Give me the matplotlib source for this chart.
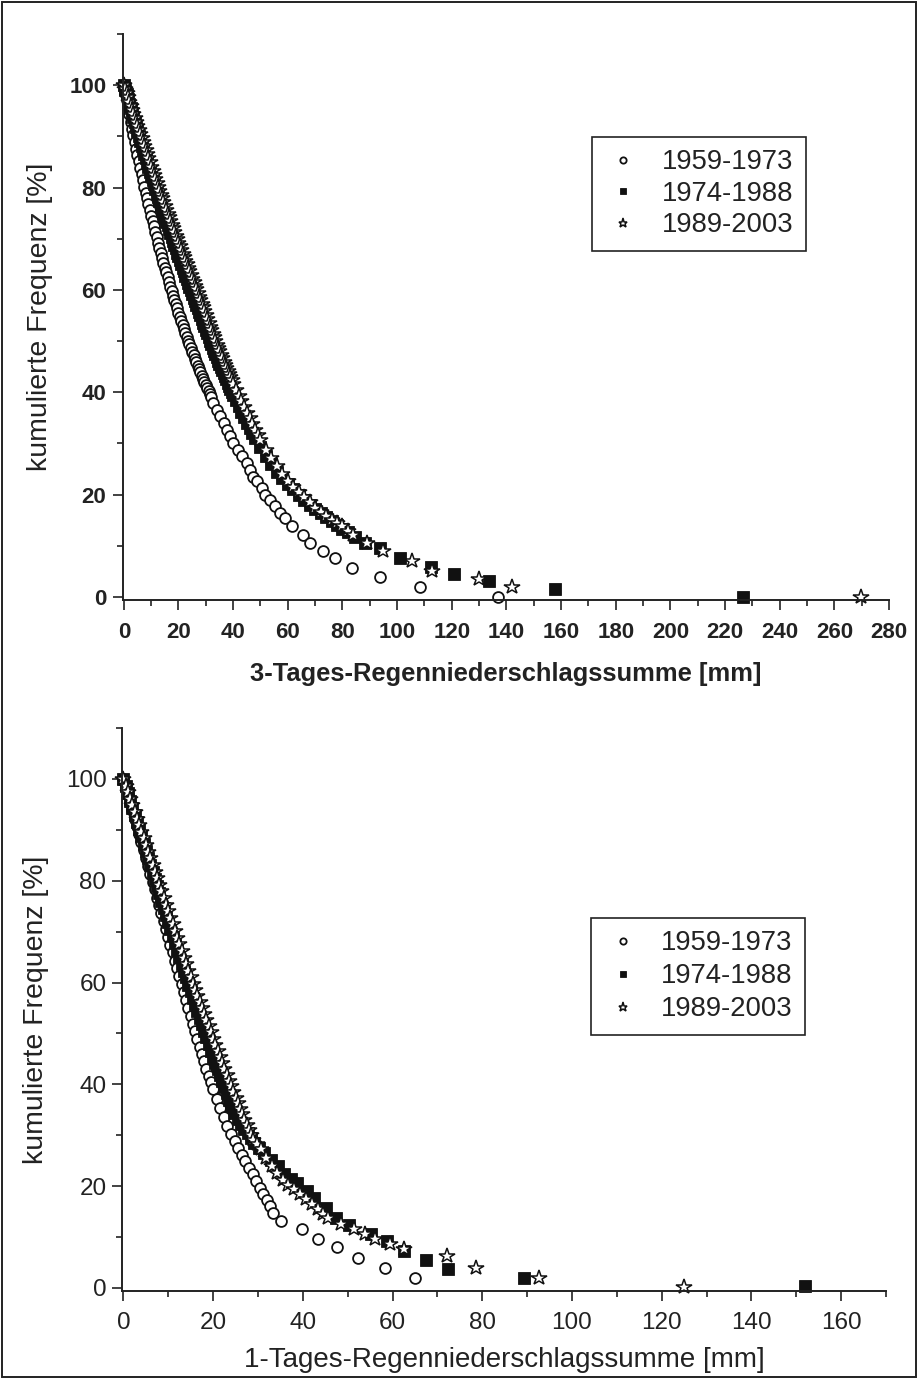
import matplotlib
matplotlib.use("Agg")
import matplotlib.pyplot as plt
from matplotlib.ticker import MultipleLocator
from matplotlib.patches import Rectangle

plt.rcParams['font.family'] = ['Liberation Sans', 'DejaVu Sans']

# ---------------- data ----------------
labels = ["1959-1973", "1974-1988", "1989-2003"]

# 3-day sums, series 1959-1973 (x mm, y %)
top_1959 = [(0,100),(0.5,98.5),(1,97.1),(1.5,95.7),(2,94.3),(2.5,92.9),(3,91.5),(3.5,90.2),(4,88.9),(4.5,87.6),
            (5,86.3),(5.5,85.1),(6,83.8),(6.5,82.6),(7,81.4),(7.5,80.2),(8,79.0),(8.5,77.9),(9,76.7),(9.5,75.6),
            (10,74.5),(10.5,73.4),(11,72.4),(11.5,71.3),(12,70.3),(12.5,69.2),(13,68.2),(13.5,67.2),(14,66.2),(14.5,65.3),
            (15,64.3),(15.5,63.4),(16,62.5),(16.5,61.5),(17,60.6),(17.5,59.8),(18,58.9),(18.5,58.0),(19,57.2),(19.5,56.4),
            (20,55.5),(20.5,54.7),(21,53.9),(21.5,53.1),(22,52.4),(22.5,51.6),(23,50.8),(23.5,50.1),(24,49.4),(24.5,48.6),
            (25,47.9),(25.5,47.2),(26,46.5),(26.5,45.9),(27,45.2),(27.5,44.5),(28,43.9),(28.5,43.2),(29,42.6),(29.5,42.0),
            (30,41.4),(30.5,40.8),(31,40.2),(31.5,39.6),(32,39.0),(32.8,37.9),(34.0,36.6),(35.2,35.3),(36.5,34.0),(37.7,32.7),
            (38.9,31.4),(40.1,30.1),(41.9,28.8),(43.2,27.5),(45.0,26.2),(46.2,24.9),(47.4,23.5),(48.7,22.6),(50.5,21.3),(51.7,20.0),
            (53.5,19.0),(55.4,17.7),(57.2,16.4),(59.0,15.4),(61.5,13.8),(65.7,12.1),(68.2,10.5),(73.0,8.9),(77.3,7.6),(83.4,5.6),
            (93.8,3.8),(108.4,2.0),(137.1,0.0)]
# 3-day sums, series 1974-1988
top_1974 = [(0,100),(0.5,99.1),(1,98.2),(1.5,97.3),(2,96.4),(2.5,95.5),(3,94.6),(3.5,93.7),(4,92.8),(4.5,91.9),
            (5,91.0),(5.5,90.0),(6,89.1),(6.5,88.2),(7,87.4),(7.5,86.5),(8,85.7),(8.5,84.8),(9,84.0),(9.5,83.1),
            (10,82.3),(10.5,81.4),(11,80.6),(11.5,79.7),(12,78.9),(12.5,78.1),(13,77.3),(13.5,76.5),(14,75.7),(14.5,74.9),
            (15,74.1),(15.5,73.3),(16,72.6),(16.5,71.8),(17,71.1),(17.5,70.3),(18,69.6),(18.5,68.8),(19,68.1),(19.5,67.3),
            (20,66.6),(20.5,65.8),(21,65.1),(21.5,64.3),(22,63.6),(22.5,62.8),(23,62.1),(23.5,61.3),(24,60.6),(24.5,59.9),
            (25,59.2),(25.5,58.5),(26,57.8),(26.5,57.1),(27,56.4),(27.5,55.7),(28,55.0),(28.5,54.3),(29,53.6),(29.5,52.9),
            (30,52.2),(30.5,51.5),(31,50.8),(31.5,50.1),(32,49.4),(32.5,48.7),(33,48.1),(33.5,47.4),(34,46.8),(34.5,46.1),
            (35,45.5),(35.5,44.9),(36,44.3),(36.5,43.7),(37,43.1),(37.5,42.5),(38,41.9),(38.5,41.3),(39,40.7),(39.5,40.1),
            (40,39.5),(41,38.4),(42,37.3),(43,36.2),(44,35.1),(45,34.0),(46,33.0),(47,32.0),(48,31.1),(50,29.2),
            (52,27.6),(54,26.0),(56,24.5),(58,23.2),(60,22.1),(62,21.0),(64,20.0),(66,19.0),(68,18.0),(70,17.2),
            (72,16.4),(74,15.6),(76,14.8),(78,14.0),(80,13.3),(82,12.6),(84.5,11.8),(88.3,10.5),(93.8,9.5),(100.9,7.7),
            (112.5,5.8),(121,4.5),(133.7,3.1),(157.6,1.5),(226.7,0.0)]
# 3-day sums, series 1989-2003
top_1989 = [(0,100),(0.5,99.2),(1,98.4),(1.5,97.6),(2,96.8),(2.5,96.0),(3,95.2),(3.5,94.4),(4,93.6),(4.5,92.8),
            (5,92.0),(5.5,91.2),(6,90.4),(6.5,89.6),(7,88.9),(7.5,88.1),(8,87.3),(8.5,86.5),(9,85.7),(9.5,84.9),
            (10,84.1),(10.5,83.3),(11,82.5),(11.5,81.7),(12,80.9),(12.5,80.1),(13,79.4),(13.5,78.6),(14,77.9),(14.5,77.1),
            (15,76.4),(15.5,75.6),(16,74.9),(16.5,74.2),(17,73.5),(17.5,72.7),(18,72.0),(18.5,71.3),(19,70.6),(19.5,69.9),
            (20,69.2),(20.5,68.5),(21,67.8),(21.5,67.1),(22,66.4),(22.5,65.7),(23,65.0),(23.5,64.3),(24,63.6),(24.5,62.9),
            (25,62.2),(25.5,61.5),(26,60.8),(26.5,60.1),(27,59.4),(27.5,58.7),(28,58.0),(28.5,57.3),(29,56.6),(29.5,55.8),
            (30,55.1),(30.5,54.3),(31,53.6),(31.5,52.8),(32,52.1),(32.5,51.4),(33,50.7),(33.5,50.0),(34,49.3),(34.5,48.6),
            (35,48.0),(35.5,47.3),(36,46.7),(36.5,46.0),(37,45.4),(37.5,44.7),(38,44.1),(38.5,43.5),(39,42.9),(39.5,42.3),
            (40,41.7),(41,40.5),(42,39.3),(43,38.2),(44,37.1),(45,36.0),(46,34.9),(47,33.8),(48,32.7),(49,31.6),
            (50,30.6),(52,28.8),(54,27.1),(56,25.5),(58,24.0),(60,22.7),(62,21.5),(64,20.5),(66,19.5),(68,18.5),
            (70,17.4),(72,16.6),(74,15.8),(76,15.0),(77.9,14.4),(79.8,13.8),(82,12.9),(84,12.1),(88.9,10.5),(94.8,8.9),
            (105.4,7.0),(112.7,5.1),(130,3.5),(142,1.9),(269.8,0.0)]

# 1-day sums, series 1959-1973
bot_1959 = [(0,100),(0.5,98.4),(1,96.9),(1.5,95.3),(2,93.8),(2.5,92.2),(3,90.7),(3.5,89.1),(4,87.6),(4.5,86.0),
            (5,84.5),(5.5,82.9),(6,81.4),(6.5,79.8),(7,78.3),(7.5,76.7),(8,75.2),(8.5,73.6),(9,72.1),(9.5,70.5),
            (10,69.0),(10.5,67.4),(11,65.9),(11.5,64.3),(12,62.8),(12.5,61.2),(13,59.7),(13.5,58.1),(14,56.6),(14.5,55.0),
            (15,53.5),(15.5,51.9),(16,50.4),(16.5,48.9),(17,47.4),(17.5,45.9),(18,44.5),(18.5,43.1),(19,41.7),(19.5,40.4),
            (20,39.1),(20.8,37.2),(21.6,35.3),(22.4,33.6),(23.2,31.9),(24,30.3),(24.8,28.8),(25.6,27.4),(26.4,26.1),(27.2,24.9),
            (28,23.6),(28.8,22.3),(29.6,21.0),(30.4,19.7),(31.2,18.5),(32,17.2),(32.7,16.0),(33.3,14.8),(35.1,13.2),(39.9,11.5),
            (43.3,9.6),(47.7,8.0),(52.3,5.9),(58.3,4.0),(65.1,1.9)]
# 1-day sums, series 1974-1988
bot_1974 = [(0,100),(0.5,98.6),(1,97.2),(1.5,95.7),(2,94.3),(2.5,92.9),(3,91.5),(3.5,90.1),(4,88.7),(4.5,87.3),
            (5,85.9),(5.5,84.5),(6,83.1),(6.5,81.7),(7,80.3),(7.5,78.9),(8,77.5),(8.5,76.1),(9,74.7),(9.5,73.3),
            (10,71.9),(10.5,70.5),(11,69.1),(11.5,67.8),(12,66.4),(12.5,65.0),(13,63.7),(13.5,62.3),(14,61.0),(14.5,59.6),
            (15,58.3),(15.5,57.0),(16,55.7),(16.5,54.4),(17,53.1),(17.5,51.8),(18,50.5),(18.5,49.2),(19,47.9),(19.5,46.6),
            (20,45.4),(20.5,44.2),(21,43.0),(21.5,41.8),(22,40.6),(22.5,39.4),(23,38.2),(23.5,37.0),(24,35.8),(24.7,34.4),
            (25.5,33.2),(26.2,32.2),(27,31.2),(27.7,30.5),(28.5,29.4),(29.2,28.5),(30.3,27.5),(31.4,26.6),(32.9,25.2),(34.4,23.9),
            (35.9,22.3),(37.3,21.5),(38.8,20.7),(41,19.0),(42.5,17.7),(45.1,15.8),(47.3,13.8),(50.3,12.3),(55.1,10.6),(58.8,9.3),
            (62.6,7.3),(67.5,5.5),(72.4,3.7),(89.2,1.9),(152,0.4)]
# 1-day sums, series 1989-2003
bot_1989 = [(0,100),(0.5,98.7),(1,97.4),(1.5,96.1),(2,94.8),(2.5,93.5),(3,92.2),(3.5,90.9),(4,89.6),(4.5,88.3),
            (5,87.0),(5.5,85.7),(6,84.4),(6.5,83.1),(7,81.8),(7.5,80.5),(8,79.2),(8.5,77.9),(9,76.6),(9.5,75.3),
            (10,74.0),(10.5,72.7),(11,71.4),(11.5,70.1),(12,68.8),(12.5,67.5),(13,66.2),(13.5,64.9),(14,63.6),(14.5,62.3),
            (15,61.0),(15.5,59.8),(16,58.6),(16.5,57.4),(17,56.2),(17.5,55.0),(18,53.8),(18.5,52.6),(19,51.4),(19.5,50.2),
            (20,49.0),(20.5,47.8),(21,46.6),(21.5,45.4),(22,44.2),(22.5,43.0),(23,41.8),(23.5,40.7),(24,39.6),(24.5,38.5),
            (25,37.4),(25.5,36.3),(26,35.2),(26.5,34.1),(27,33.0),(27.5,32.0),(28,31.0),(28.5,30.0),(29,29.1),(29.8,28.2),
            (30.7,27.2),(31.9,25.6),(33.2,24.0),(34.3,22.6),(35.5,21.3),(36.8,20.3),(38.1,19.4),(39.4,18.4),(40.7,17.4),(42,16.4),
            (43.3,15.5),(44.5,14.6),(45.6,13.8),(48.5,12.6),(51.4,11.5),(53.8,10.5),(56.2,9.6),(59.5,8.6),(62.5,7.6),(72.1,6.2),
            (78.5,4.0),(92.7,1.9),(125,0.2)]

top_xlabel = "3-Tages-Regenniederschlagssumme [mm]"
bot_xlabel = "1-Tages-Regenniederschlagssumme [mm]"
ylabel = "kumulierte Frequenz [%]"

# ---------------- figure ----------------
W, H = 917, 1378
fig = plt.figure(figsize=(W / 100, H / 100), dpi=100)
fig.patches.append(Rectangle((1.5 / W, 1.5 / H), 1 - 3 / W, 1 - 3 / H, transform=fig.transFigure,
                             fill=False, lw=1.4, ec='#222222'))

ax1 = fig.add_axes([123 / W, 1 - 600 / H, (889 - 123) / W, (600 - 34) / H])
ax2 = fig.add_axes([122 / W, 1 - 1291 / H, (886 - 122) / W, (1291 - 728) / H])

styles = [dict(marker='o', ms=7.8, mfc='white', mec='#111111', mew=1.3, ls='none'),
          dict(marker='s', ms=8.2, mfc='#111111', mec='#111111', mew=0.6, ls='none'),
          dict(marker='*', ms=11.5, mfc='white', mec='#111111', mew=1.1, ls='none')]


def draw(ax, series, xmax, xlabel, bold, tick_fs, lab_fs, xpad, ypad, labelpad,
         leg_anchor, leg_spacing):
    handles = []
    for pts, st, lab in zip(series, styles, labels):
        xs = [p[0] for p in pts]
        ys = [p[1] for p in pts]
        h, = ax.plot(xs, ys, label=lab, clip_on=False, **st)
        handles.append(h)
    ax.set_xlim(-0.3, xmax)
    ax.set_ylim(-0.6, 110)
    ax.xaxis.set_major_locator(MultipleLocator(20))
    ax.xaxis.set_minor_locator(MultipleLocator(10))
    ax.yaxis.set_major_locator(MultipleLocator(20))
    ax.yaxis.set_minor_locator(MultipleLocator(10))
    ax.set_yticks([0, 20, 40, 60, 80, 100])
    for s in ['top', 'right']:
        ax.spines[s].set_visible(False)
    for s in ['left', 'bottom']:
        ax.spines[s].set_linewidth(1.4)
        ax.spines[s].set_color('#222222')
    ax.tick_params(which='major', direction='out', length=7, width=1.2, colors='#222222',
                   labelsize=tick_fs)
    ax.tick_params(axis='x', which='major', pad=xpad)
    ax.tick_params(axis='y', which='major', pad=ypad)
    ax.tick_params(which='minor', direction='out', length=4.5, width=1.2, colors='#222222')
    weight = 'bold' if bold else 'normal'
    for t in ax.get_xticklabels() + ax.get_yticklabels():
        t.set_fontweight(weight)
    ax.set_xlabel(xlabel, fontsize=lab_fs, fontweight=weight, labelpad=labelpad, color='#222222')
    ax.set_ylabel(ylabel, fontsize=20.5, labelpad=12, color='#222222')
    leg = ax.legend(handles=handles, loc='upper left', bbox_to_anchor=leg_anchor,
                    borderaxespad=0, fontsize=19.8, markerscale=0.58, handlelength=1.4,
                    handletextpad=0.7, borderpad=0.45, labelspacing=leg_spacing, frameon=True,
                    fancybox=False, edgecolor='#222222', framealpha=1)
    leg.get_frame().set_linewidth(1.2)
    for t in leg.get_texts():
        t.set_color('#222222')


draw(ax1, [top_1959, top_1974, top_1989], 280, top_xlabel, True, 16, 18.4,
     xpad=8.6, ypad=5, labelpad=14, leg_anchor=(0.612, 0.818), leg_spacing=0.2)
draw(ax2, [bot_1959, bot_1974, bot_1989], 170, bot_xlabel, False, 17.5, 20,
     xpad=8, ypad=4.2, labelpad=9.5, leg_anchor=(0.614, 0.6625), leg_spacing=0.25)

fig.savefig("out.png", dpi=100)
